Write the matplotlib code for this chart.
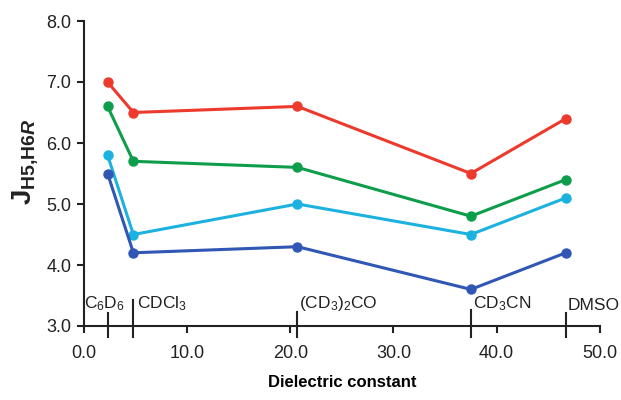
"""Coupling constant J(H5,H6R) versus solvent dielectric constant."""

import matplotlib
matplotlib.use("Agg")
import matplotlib.pyplot as plt

plt.rcParams["font.family"] = ["Liberation Sans", "DejaVu Sans"]
plt.rcParams["mathtext.fontset"] = "custom"
plt.rcParams["mathtext.rm"] = "Liberation Sans"
plt.rcParams["mathtext.it"] = "Liberation Sans:italic"
plt.rcParams["mathtext.bf"] = "Liberation Sans:bold"
plt.rcParams["mathtext.bfit"] = "Liberation Sans:bold:italic"

# dielectric constants of the solvents
solvents = ["C$_6$D$_6$", "CDCl$_3$", "(CD$_3$)$_2$CO", "CD$_3$CN", "DMSO"]
eps = [2.3, 4.8, 20.7, 37.5, 46.7]

# J values per series (Hz)
j_red = [7.0, 6.5, 6.6, 5.5, 6.4]
j_green = [6.6, 5.7, 5.6, 4.8, 5.4]
j_cyan = [5.8, 4.5, 5.0, 4.5, 5.1]
j_blue = [5.5, 4.2, 4.3, 3.6, 4.2]

series = [
    (j_red, "#ec3a2c"),
    (j_green, "#0e9d4a"),
    (j_cyan, "#1cb2e0"),
    (j_blue, "#3057b4"),
]

fig = plt.figure(figsize=(6.21, 4.0), dpi=100)
ax = fig.add_axes([0.135, 0.185, 0.831, 0.7625])

for vals, color in series:
    ax.plot(eps, vals, color=color, lw=2.2, marker="o", ms=6.5, zorder=3)

ax.set_xlim(0, 50)
ax.set_ylim(3.0, 8.0)
ax.set_xticks([0, 10, 20, 30, 40, 50])
ax.set_xticklabels([f"{v:.1f}" for v in [0, 10, 20, 30, 40, 50]])
ax.set_yticks([3, 4, 5, 6, 7, 8])
ax.set_yticklabels([f"{v:.1f}" for v in [3, 4, 5, 6, 7, 8]])
ax.tick_params(axis="both", labelsize=13, width=1.5, length=5, color="#222222",
               labelcolor="#222222")
ax.tick_params(axis="x", pad=9)
ax.tick_params(axis="y", pad=4)
ax.spines["top"].set_visible(False)
ax.spines["right"].set_visible(False)
for side in ("left", "bottom"):
    ax.spines[side].set_linewidth(1.5)
    ax.spines[side].set_color("#222222")

# solvent markers crossing the x axis, with names
label_off = [(-0.3, "center"), (0.35, "left"), (0.15, "left"), (0.2, "left"), (0.15, "left")]
tick_top = [0.22, 0.43, 0.23, 0.26, 0.22]
for name, x, (dx, ha), top in zip(solvents, eps, label_off, tick_top):
    ax.plot([x, x], [3.0 - 0.18, 3.0 + top], color="#222222", lw=1.5,
            clip_on=False, zorder=4)
    ax.text(x + dx, 3.22, name, ha=ha, va="bottom", fontsize=12.5, color="#222222")

ax.set_xlabel("Dielectric constant", fontsize=12, fontweight="bold", labelpad=9)
ax.set_ylabel(r"$\mathbf{J}_{\mathbf{H5{,}H6}\mathbfit{R}}$", fontsize=20,
              color="#222222")
ax.yaxis.set_label_coords(-0.085, 0.54)

fig.savefig("out.png", dpi=100)
